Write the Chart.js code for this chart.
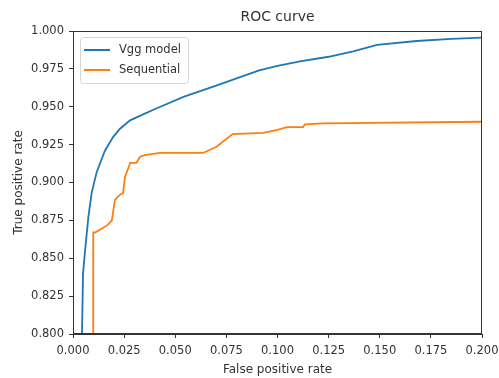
<!DOCTYPE html>
<html>
<head>
<meta charset="utf-8">
<script src="https://cdn.jsdelivr.net/npm/chart.js@4.4.1/dist/chart.umd.min.js"></script>
<style>
  html, body { margin: 0; padding: 0; background: #fff; }
  #wrap { width: 499px; height: 378px; position: relative; }
</style>
</head>
<body>
<div id="wrap"><canvas id="roc"></canvas></div>
<script>
// values
const chartTitle = 'ROC curve';
const seriesNames = ['Vgg model', 'Sequential'];
const vggFpr = [0.0044, 0.0049, 0.0059, 0.0075, 0.0091, 0.0116, 0.0156, 0.0196, 0.023, 0.0279, 0.034, 0.041, 0.054, 0.070, 0.091, 0.100, 0.111, 0.125, 0.137, 0.1487, 0.168, 0.185, 0.200];
const vggTpr = [0.800, 0.840, 0.855, 0.877, 0.893, 0.907, 0.921, 0.930, 0.9355, 0.941, 0.9448, 0.949, 0.9565, 0.964, 0.974, 0.977, 0.980, 0.983, 0.9865, 0.9908, 0.9934, 0.9948, 0.9956];
const seqFpr = [0.0099, 0.0099, 0.0108, 0.017, 0.019, 0.0205, 0.023, 0.0245, 0.0254, 0.028, 0.031, 0.0328, 0.035, 0.0425, 0.0636, 0.070, 0.078, 0.093, 0.100, 0.1046, 0.1125, 0.1134, 0.122, 0.200];
const seqTpr = [0.800, 0.867, 0.867, 0.872, 0.875, 0.8885, 0.892, 0.893, 0.9036, 0.913, 0.913, 0.917, 0.918, 0.9195, 0.9195, 0.9234, 0.932, 0.9327, 0.9347, 0.9366, 0.9366, 0.9384, 0.939, 0.9401];
const xTicks = [0, 0.025, 0.05, 0.075, 0.1, 0.125, 0.15, 0.175, 0.2];
const yTicks = [0.8, 0.825, 0.85, 0.875, 0.9, 0.925, 0.95, 0.975, 1.0];

const toPoints = (xs, ys) => xs.map((x, i) => ({ x: x, y: ys[i] }));
const FONT = 'DejaVu Sans';
const INK = '#333';

// box round the plot, title over the plot and matplotlib style legend in the upper left
const frameAndLegend = {
    id: 'frameAndLegend',
    afterDraw(chart) {
        const ctx = chart.ctx;
        const a = chart.chartArea;
        ctx.save();
        ctx.strokeStyle = INK;
        ctx.lineWidth = 1;
        ctx.strokeRect(a.left + 0.5, a.top + 0.5, a.right - a.left - 1, a.bottom - a.top - 1);

        // title centred on the plot, like matplotlib
        ctx.fillStyle = INK;
        ctx.font = '14px ' + FONT;
        ctx.textAlign = 'center';
        ctx.textBaseline = 'middle';
        ctx.fillText(chartTitle, (a.left + a.right) / 2, 17);

        // legend
        const bx = a.left + 7, by = a.top + 6, bw = 108, bh = 46;
        ctx.fillStyle = 'rgba(255,255,255,0.8)';
        ctx.strokeStyle = '#d6d6d6';
        ctx.beginPath();
        ctx.roundRect(bx + 0.5, by + 0.5, bw, bh, 3);
        ctx.fill();
        ctx.stroke();
        ctx.font = '11.5px ' + FONT;
        ctx.textAlign = 'left';
        chart.data.datasets.forEach((ds, i) => {
            const ly = by + 13 + i * 20;
            ctx.strokeStyle = ds.borderColor;
            ctx.lineWidth = 2;
            ctx.beginPath();
            ctx.moveTo(bx + 4, ly);
            ctx.lineTo(bx + 30, ly);
            ctx.stroke();
            ctx.fillStyle = INK;
            ctx.fillText(ds.label, bx + 39, ly);
        });
        ctx.restore();
    }
};

new Chart(document.getElementById('roc'), {
    type: 'line',
    data: {
        datasets: [
            {
                label: seriesNames[0],
                data: toPoints(vggFpr, vggTpr),
                borderColor: '#1f77b4',
                borderWidth: 1.8,
                pointRadius: 0,
                tension: 0
            },
            {
                label: seriesNames[1],
                data: toPoints(seqFpr, seqTpr),
                borderColor: '#ff7f0e',
                borderWidth: 1.8,
                pointRadius: 0,
                tension: 0
            }
        ]
    },
    options: {
        responsive: true,
        maintainAspectRatio: false,
        animation: false,
        layout: { padding: { left: 12, right: 0, top: 31, bottom: 0 } },
        plugins: {
            legend: { display: false },
            tooltip: { enabled: false },
            title: { display: false }
        },
        scales: {
            x: {
                type: 'linear',
                min: 0,
                max: 0.2,
                afterFit(scale) { scale.height = 44; scale.paddingRight = 17; },
                afterBuildTicks(scale) { scale.ticks = xTicks.map(v => ({ value: v })); },
                grid: { display: true, drawOnChartArea: false, drawTicks: true, tickLength: 4, color: INK },
                border: { display: true, color: INK },
                ticks: {
                    color: INK,
                    padding: 6,
                    maxRotation: 0,
                    font: { family: FONT, size: 11.5 },
                    callback: v => v.toFixed(3)
                },
                title: {
                    display: true,
                    text: 'False positive rate',
                    color: INK,
                    font: { family: FONT, size: 12 },
                    padding: { top: 0, bottom: 1 }
                }
            },
            y: {
                type: 'linear',
                min: 0.8,
                max: 1.0,
                afterFit(scale) { scale.width = 61; },
                afterBuildTicks(scale) { scale.ticks = yTicks.map(v => ({ value: v })); },
                grid: { display: true, drawOnChartArea: false, drawTicks: true, tickLength: 4, color: INK },
                border: { display: true, color: INK },
                ticks: {
                    color: INK,
                    padding: 5,
                    font: { family: FONT, size: 11.5 },
                    callback: v => v.toFixed(3)
                },
                title: {
                    display: true,
                    text: 'True positive rate',
                    color: INK,
                    font: { family: FONT, size: 12 },
                    padding: { top: 0, bottom: 2 }
                }
            }
        }
    },
    plugins: [frameAndLegend]
});
</script>
</body>
</html>
